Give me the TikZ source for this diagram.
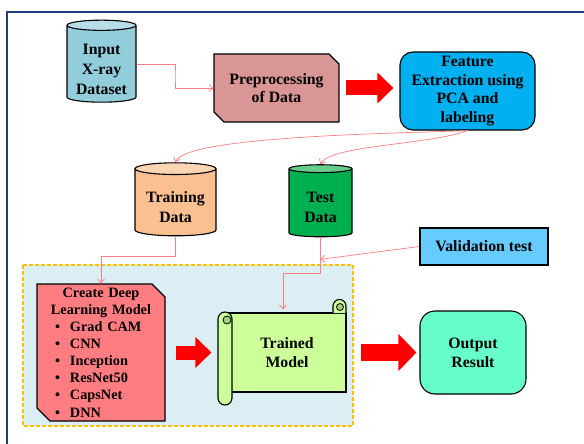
\documentclass[tikz,border=0pt]{standalone}
\usepackage{fontspec}
\setmainfont{Liberation Serif}
\usetikzlibrary{arrows.meta,positioning,calc,shapes.geometric,shapes.misc}

\definecolor{frameblue}{HTML}{1F3A78}
\definecolor{linkred}{HTML}{FF7C80}
\definecolor{inputbody}{HTML}{92CDDC}
\definecolor{inputtop}{HTML}{B7DEE8}
\definecolor{prepfill}{HTML}{D99694}
\definecolor{featfill}{HTML}{00B0F0}
\definecolor{trainbody}{HTML}{FAC090}
\definecolor{traintop}{HTML}{FCD5B5}
\definecolor{testbody}{HTML}{00B050}
\definecolor{testtop}{HTML}{66CC8C}
\definecolor{validfill}{HTML}{66CCFF}
\definecolor{panelfill}{HTML}{DAEEF3}
\definecolor{paneldash}{HTML}{FFC000}
\definecolor{createfill}{HTML}{FF7C80}
\definecolor{scrollfill}{HTML}{CCFF99}
\definecolor{curlfill}{HTML}{A3D17A}
\definecolor{outfill}{HTML}{66FFCC}

\newcommand{\litem}[1]{\hspace*{11pt}\makebox[15pt][l]{\textbullet}#1}

\begin{document}
\begin{tikzpicture}[x=1pt, y=-1pt, >=Latex,
  every node/.style={font=\bfseries\fontsize{15.8}{18.8}\selectfont, align=center},
  db/.style={draw, line width=1.1pt, cylinder, shape border rotate=90, cylinder uses custom fill, shape aspect=0.2, inner sep=0pt,
    font=\bfseries\fontsize{15.8}{20}\selectfont},
  cutbox/.style={draw, line width=1.1pt, chamfered rectangle, chamfered rectangle corners={north east,south west}, inner sep=0pt},
  roundbox/.style={draw, line width=1.1pt, rounded corners=13pt, inner sep=0pt},
  link/.style={linkred, line width=0.7pt, -{Straight Barb[length=4pt,width=7pt]}},
  bigarrow/.style={red, line width=15pt, -{Triangle[length=16pt,width=30pt]}}]

  \useasboundingbox (0,0) rectangle (584,444);
  \draw[frameblue, line width=1.6pt] (7,12) rectangle (600,460);

  % dashed background of the model part
  \draw[paneldash, fill=panelfill, line width=1.2pt, dash pattern=on 4pt off 2pt] (23,265) rectangle (353,426);

  \node[db, minimum width=69pt, minimum height=82pt, cylinder body fill=inputbody, cylinder end fill=inputtop] (input) at (101.5,64) {\rule{0pt}{21pt}Input\\X-ray\\Dataset};
  \node[cutbox, fill=prepfill, minimum width=125pt, minimum height=68pt, chamfered rectangle sep=5pt] (prep) at (276.5,88) {Preprocessing\\of Data};
  \node[roundbox, fill=featfill, minimum width=135pt, minimum height=78pt] (feat) at (467.5,91) {Feature\\Extraction using\\PCA and\\labeling};

  \node[db, minimum width=81pt, minimum height=73pt, cylinder body fill=trainbody, cylinder end fill=traintop] (train) at (175.5,202.5) {\rule{0pt}{21pt}Training\\Data};
  \node[db, minimum width=63pt, minimum height=72pt, shape aspect=0.24, cylinder body fill=testbody, cylinder end fill=testtop] (test) at (320.5,203) {\rule{0pt}{19pt}Test\\Data};
  \node[draw, line width=1.1pt, fill=validfill, minimum width=128pt, minimum height=37pt, inner sep=0pt] (valid) at (484,246.5) {Validation test};

  \node[cutbox, fill=createfill, minimum width=128pt, minimum height=137pt, chamfered rectangle sep=6.5pt, inner ysep=-6pt, text width=114pt, align=left, font=\bfseries\fontsize{14.3}{17.1}\selectfont] (create) at (101,352.5)
    {{\centering Create Deep\\Learning Model\par}
     \litem{Grad CAM}\\\litem{CNN}\\\litem{Inception}\\\litem{ResNet50}\\\litem{CapsNet}\\\litem{DNN}};

  \node[draw, line width=1.1pt, fill=scrollfill, minimum width=118pt, minimum height=79pt, inner sep=0pt] (trained) at (287,352.5) {Trained\\Model};
  % scroll rolls
  \draw[line width=1.1pt, fill=scrollfill] (333,313) -- (333,306) arc[start angle=180, end angle=360, radius=6.5] -- (346,313);
  \draw[line width=0.8pt, fill=curlfill] (340,307) circle (3.5);
  \draw[line width=1.1pt, fill=scrollfill, rounded corners=7pt] (218,312) rectangle (232,405);
  \draw[line width=0.8pt, fill=curlfill] (227,320) circle (4);

  \node[roundbox, rounded corners=15pt, fill=outfill, minimum width=106pt, minimum height=83pt] (out) at (473,352.5) {Output\\Result};

  % thin connectors
  \draw[link] (input.east) -| ($(input.east)!0.5!(prep.west)$) |- (prep.west);
  \draw[link] (feat.south) .. controls (420,133) and (185,135) .. (train.north);
  \draw[link] (feat.south) .. controls (430,145) and (330,145) .. (test.north);
  \draw[link] (train.south) -- ++(0,20) -| (create.north);
  \coordinate (tj) at ($(test.south)+(0,22)$);
  \draw[link] (test.south) -- ++(0,36) -| ([xshift=-4pt,yshift=3pt]trained.north);
  \draw[link] (valid.west) -- (tj);

  % big red arrows
  \draw[bigarrow, shorten <=6pt, shorten >=6pt] (prep.east) -- (prep.east -| feat.west);
  \draw[bigarrow, line width=14pt, shorten <=10pt, shorten >=16pt] (create.east) -- (create.east -| trained.west);
  \draw[bigarrow, line width=17pt, -{Triangle[length=18pt,width=36pt]}, shorten <=14pt, shorten >=3pt] (trained.east) -- (trained.east -| out.west);
\end{tikzpicture}
\end{document}
